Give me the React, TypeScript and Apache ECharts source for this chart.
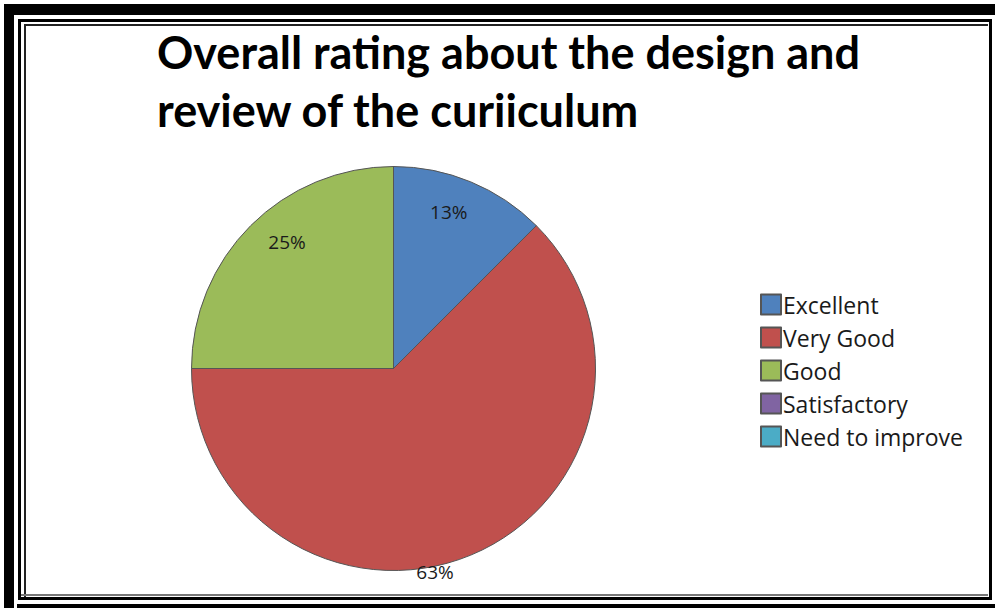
import React, { useEffect, useRef } from "react";
import * as echarts from "echarts";

const categories = ["Excellent", "Very Good", "Good", "Satisfactory", "Need to improve"];
const counts = [1, 5, 2, 0, 0];
const colors = ["#4F81BD", "#C0504D", "#9BBB59", "#8064A2", "#4BACC6"];
const titleText = "Overall rating about the design and\nreview of the curiiculum";

// label placement styles (fraction of radius, angle shift in degrees)
const labelRadiusFactor = [0.82, 1.03, 0.82, 0.82, 0.82];
const labelAngleShift = [-3, 11, 5, 0, 0];

export default function App() {
  const ref = useRef<HTMLDivElement>(null);
  useEffect(() => {
    if (!ref.current) return;
    const chart = echarts.init(ref.current, null, { renderer: "svg" });
    const cx = 393.5;
    const cy = 368.5;
    const R = 202;
    const total = counts.reduce((a, b) => a + b, 0);
    const titleFont = "Lato, 'Open Sans', sans-serif";
    const font = "'Open Sans', Lato, sans-serif";
    chart.setOption({
      animation: false,
      backgroundColor: "#ffffff",
      title: {
        text: titleText,
        left: 152,
        top: 18,
        textStyle: {
          fontFamily: titleFont,
          fontSize: 45,
          fontWeight: "bold",
          color: "#000000",
          lineHeight: 58,
        },
      },
      legend: {
        orient: "vertical",
        left: 760,
        top: 293,
        padding: 0,
        itemWidth: 20,
        itemHeight: 20,
        itemGap: 10,
        icon: "rect",
        data: categories,
        textStyle: {
          fontFamily: font,
          fontSize: 23,
          lineHeight: 20,
          color: "#1a1a1a",
          padding: [0, 0, 0, -3],
        },
      },
      graphic: [
        { type: "rect", shape: { x: 4, y: 4, width: 10, height: 604 }, style: { fill: "#000" } },
        { type: "rect", shape: { x: 4, y: 4, width: 991, height: 11 }, style: { fill: "#000" } },
        { type: "rect", shape: { x: 17, y: 604, width: 978, height: 4 }, style: { fill: "#000" } },
        {
          type: "rect",
          shape: { x: 19.5, y: 20.5, width: 971, height: 578 },
          style: { fill: "none", stroke: "#000", lineWidth: 3 },
        },
        { type: "rect", shape: { x: 24, y: 25, width: 2, height: 572 }, style: { fill: "#222" } },
        { type: "rect", shape: { x: 24, y: 24, width: 964, height: 2 }, style: { fill: "#222" } },
        { type: "rect", shape: { x: 21, y: 594, width: 967, height: 2 }, style: { fill: "#777" } },
      ],
      series: [
        {
          type: "pie",
          center: [cx, cy],
          radius: R,
          startAngle: 90,
          clockwise: true,
          data: categories.map((name, i) => ({
            name,
            value: counts[i],
            itemStyle: { color: colors[i] },
          })),
          itemStyle: { borderColor: "#555555", borderWidth: 1 },
          label: {
            show: true,
            position: "inside",
            fontFamily: font,
            fontSize: 19,
            color: "#1a1a1a",
            formatter: (p: any) =>
              p.value > 0 ? Math.round((p.value / total) * 100) + "%" : "",
          },
          labelLine: { show: false },
          labelLayout: (p: any) => {
            const i = p.dataIndex;
            let before = 0;
            for (let k = 0; k < i; k++) before += counts[k];
            const mid =
              ((before + counts[i] / 2) / total) * 360 + labelAngleShift[i];
            const a = (mid * Math.PI) / 180;
            const r = R * labelRadiusFactor[i];
            return {
              x: cx + r * Math.sin(a),
              y: cy - r * Math.cos(a),
              align: "center",
              verticalAlign: "middle",
            };
          },
          emphasis: { disabled: true },
        },
      ],
    });
    return () => chart.dispose();
  }, []);
  return (
    <div
      ref={ref}
      style={{ position: "fixed", left: 0, top: 0, width: 995, height: 608, background: "#fff" }}
    />
  );
}
